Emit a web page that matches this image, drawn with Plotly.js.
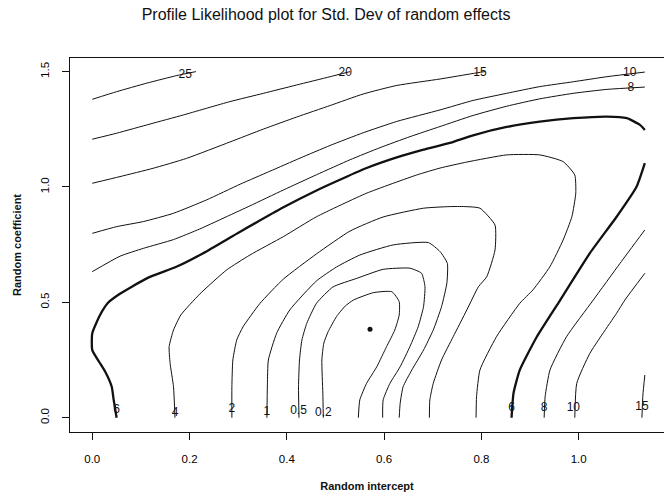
<!DOCTYPE html>
<html>
<head>
<meta charset="utf-8">
<script src="https://cdn.plot.ly/plotly-3.0.1.min.js"></script>
<style>html,body{margin:0;padding:0;background:#fff;}#chart{width:664px;height:492px;}</style>
</head>
<body>
<div id="chart"></div>
<script>
// Tick labels
const xTickVals = [0, 0.2, 0.4, 0.6, 0.8, 1.0];
const xTickText = ["0.0", "0.2", "0.4", "0.6", "0.8", "1.0"];
const yTickVals = [0, 0.5, 1.0, 1.5];
const yTickText = ["0.0", "0.5", "1.0", "1.5"];

// Contour lines (x = random intercept, y = random coefficient)
const c25X = [0, 0.050, 0.112, 0.174, 0.213];
const c25Y = [1.380, 1.413, 1.450, 1.483, 1.500];

const c20X = [0, 0.050, 0.119, 0.187, 0.283, 0.352, 0.420, 0.489, 0.530];
const c20Y = [1.207, 1.233, 1.273, 1.312, 1.370, 1.406, 1.442, 1.478, 1.500];

const c15aX = [0, 0.057, 0.125, 0.194, 0.283, 0.352, 0.420, 0.489, 0.557, 0.626, 0.715, 0.783, 0.807];
const c15aY = [1.016, 1.045, 1.081, 1.124, 1.195, 1.251, 1.303, 1.353, 1.403, 1.440, 1.468, 1.492, 1.500];
const c15bX = [1.136, 1.132, 1.130];
const c15bY = [0.185, 0.098, 0];

const c10aX = [0, 0.050, 0.105, 0.167, 0.235, 0.304, 0.365, 0.427, 0.489, 0.557, 0.626, 0.715, 0.783, 0.852, 0.920, 0.989, 1.058, 1.136];
const c10aY = [0.799, 0.828, 0.850, 0.886, 0.944, 1.012, 1.068, 1.125, 1.180, 1.235, 1.284, 1.334, 1.375, 1.406, 1.435, 1.456, 1.478, 1.498];
const c10bX = [1.136, 1.095, 1.078, 1.023, 0.996, 0.992];
const c10bY = [0.626, 0.510, 0.453, 0.279, 0.149, 0];

const c8aX = [0, 0.057, 0.105, 0.167, 0.221, 0.283, 0.324, 0.393, 0.461, 0.530, 0.591, 0.653, 0.715, 0.783, 0.852, 0.920, 0.989, 1.058, 1.136];
const c8aY = [0.633, 0.700, 0.734, 0.772, 0.818, 0.878, 0.918, 0.987, 1.053, 1.118, 1.170, 1.218, 1.262, 1.310, 1.350, 1.382, 1.406, 1.423, 1.433];
const c8bX = [1.136, 1.085, 1.030, 0.975, 0.941, 0.931, 0.929];
const c8bY = [0.814, 0.669, 0.510, 0.351, 0.207, 0.091, 0];

const c6aX = [0.050, 0.044, 0.040, 0.028, 0.016, 0, 0, 0.016, 0.032, 0.053, 0.112, 0.174, 0.228, 0.304, 0.393, 0.461, 0.516, 0.564, 0.626, 0.681, 0.735, 0.783, 0.852, 0.920, 0.989, 1.058, 1.099, 1.126, 1.136];
const c6aY = [0, 0.077, 0.134, 0.194, 0.236, 0.293, 0.366, 0.445, 0.497, 0.532, 0.604, 0.655, 0.713, 0.806, 0.912, 0.985, 1.038, 1.082, 1.128, 1.162, 1.191, 1.224, 1.260, 1.283, 1.298, 1.305, 1.298, 1.269, 1.247];
const c6bX = [1.136, 1.119, 1.078, 1.023, 0.962, 0.914, 0.879, 0.866, 0.862];
const c6bY = [1.103, 1.001, 0.871, 0.713, 0.510, 0.351, 0.207, 0.106, 0];

const c4X = [0.170, 0.167, 0.160, 0.158, 0.167, 0.182, 0.221, 0.276, 0.324, 0.393, 0.461, 0.564, 0.667, 0.715, 0.770, 0.852, 0.920, 0.968, 0.992, 0.994, 0.986, 0.968, 0.941, 0.906, 0.879, 0.831, 0.797, 0.790, 0.789];
const c4Y = [0, 0.134, 0.236, 0.308, 0.380, 0.445, 0.536, 0.640, 0.705, 0.785, 0.871, 0.973, 1.052, 1.082, 1.108, 1.139, 1.139, 1.110, 1.052, 0.973, 0.871, 0.770, 0.655, 0.554, 0.496, 0.351, 0.207, 0.091, 0];

const c2X = [0.287, 0.287, 0.289, 0.297, 0.310, 0.345, 0.393, 0.461, 0.530, 0.598, 0.681, 0.735, 0.766, 0.797, 0.828, 0.828, 0.811, 0.794, 0.770, 0.742, 0.718, 0.701, 0.694, 0.693];
const c2Y = [0, 0.134, 0.250, 0.337, 0.394, 0.496, 0.601, 0.710, 0.809, 0.870, 0.908, 0.915, 0.915, 0.908, 0.835, 0.727, 0.611, 0.568, 0.467, 0.351, 0.250, 0.149, 0.077, 0];

const c1X = [0.359, 0.360, 0.362, 0.379, 0.406, 0.461, 0.502, 0.550, 0.619, 0.691, 0.715, 0.730, 0.729, 0.718, 0.701, 0.681, 0.657, 0.639, 0.633, 0.631];
const c1Y = [0, 0.142, 0.250, 0.366, 0.467, 0.593, 0.653, 0.705, 0.749, 0.759, 0.720, 0.669, 0.583, 0.481, 0.380, 0.293, 0.207, 0.134, 0.062, 0];

const c05X = [0.425, 0.424, 0.426, 0.431, 0.441, 0.461, 0.495, 0.544, 0.598, 0.653, 0.677, 0.684, 0.681, 0.670, 0.653, 0.633, 0.612, 0.598, 0.597];
const c05Y = [0, 0.134, 0.250, 0.337, 0.409, 0.496, 0.567, 0.604, 0.643, 0.648, 0.626, 0.568, 0.481, 0.394, 0.308, 0.221, 0.149, 0.077, 0];

const c02X = [0.475, 0.474, 0.472, 0.476, 0.485, 0.502, 0.520, 0.537, 0.578, 0.616, 0.631, 0.631, 0.622, 0.605, 0.585, 0.564, 0.550, 0.547];
const c02Y = [0, 0.106, 0.250, 0.323, 0.373, 0.438, 0.484, 0.510, 0.542, 0.546, 0.503, 0.445, 0.380, 0.308, 0.221, 0.149, 0.077, 0];

// Contour labels
const labelText = ["25", "20", "15", "10", "8", "6", "4", "2", "1", "0.5", "0.2", "6", "8", "10", "15"];
const labelX = [0.191, 0.520, 0.797, 1.105, 1.107, 0.050, 0.170, 0.287, 0.359, 0.424, 0.475, 0.862, 0.929, 0.989, 1.130];
const labelY = [1.486, 1.493, 1.493, 1.493, 1.428, 0.033, 0.019, 0.036, 0.026, 0.030, 0.019, 0.041, 0.041, 0.041, 0.045];

// Maximum likelihood estimate
const mleX = [0.571];
const mleY = [0.383];

const INK = '#111';
const FONT = 'Liberation Sans, Arial, Helvetica, sans-serif';

function line(x, y, w) {
  return {type: 'scatter', mode: 'lines', x: x, y: y, hoverinfo: 'skip',
          line: {color: INK, width: w, shape: 'spline', smoothing: 0.5}};
}

const thin = 1, thick = 2.3;
const data = [
  line(c25X, c25Y, thin), line(c20X, c20Y, thin),
  line(c15aX, c15aY, thin), line(c15bX, c15bY, thin),
  line(c10aX, c10aY, thin), line(c10bX, c10bY, thin),
  line(c8aX, c8aY, thin), line(c8bX, c8bY, thin),
  line(c6aX, c6aY, thick), line(c6bX, c6bY, thick),
  line(c4X, c4Y, thin), line(c2X, c2Y, thin), line(c1X, c1Y, thin),
  line(c05X, c05Y, thin), line(c02X, c02Y, thin),
  {type: 'scatter', mode: 'text', x: labelX, y: labelY, text: labelText,
   textposition: 'middle center', hoverinfo: 'skip', cliponaxis: false,
   textfont: {family: FONT, size: 12, color: INK}},
  {type: 'scatter', mode: 'markers', x: mleX, y: mleY, hoverinfo: 'skip',
   marker: {color: INK, size: 5}}
];

const layout = {
  width: 664, height: 492,
  margin: {l: 70, r: 0, t: 58, b: 60, pad: 0},
  paper_bgcolor: '#fff', plot_bgcolor: '#fff',
  showlegend: false,
  title: {text: 'Profile Likelihood plot for Std. Dev of random effects',
          font: {family: FONT, size: 16, color: INK},
          x: 0.491, xref: 'container', xanchor: 'center',
          y: 0.971, yref: 'container', yanchor: 'middle'},
  xaxis: {range: [-0.0458, 1.1754], tickmode: 'array', tickvals: xTickVals, ticktext: xTickText,
          ticks: 'outside', ticklen: 7, tickwidth: 1, tickcolor: INK, ticklabelstandoff: 9,
          showline: true, linecolor: INK, linewidth: 1, mirror: true,
          showgrid: false, zeroline: false,
          tickfont: {family: FONT, size: 11.5, color: '#000'},
          title: {text: 'Random intercept', standoff: 19,
                  font: {family: FONT, size: 11, color: INK, weight: 'bold'}}},
  yaxis: {range: [-0.062, 1.559], tickmode: 'array', tickvals: yTickVals, ticktext: yTickText,
          ticks: 'outside', ticklen: 7, tickwidth: 1, tickcolor: INK, tickangle: -90, ticklabelstandoff: 8,
          showline: true, linecolor: INK, linewidth: 1, mirror: false,
          showgrid: false, zeroline: false,
          tickfont: {family: FONT, size: 11.5, color: '#000'},
          title: {text: 'Random coefficient', standoff: 15,
                  font: {family: FONT, size: 11, color: INK, weight: 'bold'}}}
};

Plotly.newPlot('chart', data, layout, {staticPlot: true, displayModeBar: false});
</script>
</body>
</html>
